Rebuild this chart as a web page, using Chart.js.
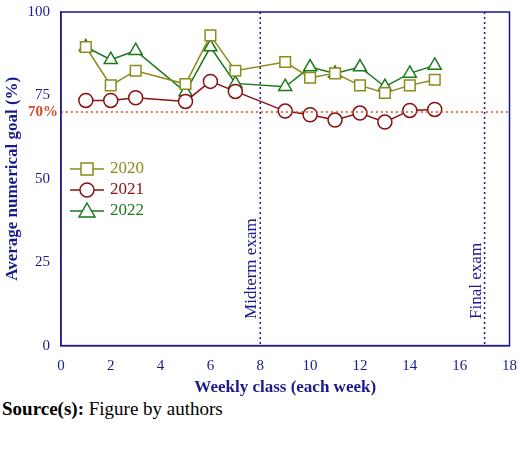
<!DOCTYPE html>
<html><head><meta charset="utf-8">
<script src="https://cdn.jsdelivr.net/npm/chart.js@4/dist/chart.umd.min.js"></script>
<style>
body{margin:0;background:#fff;font-family:"Liberation Serif",serif}
#wrap{width:520px;height:398px;position:relative}
#src{font-size:19px;margin:0 0 0 2px;line-height:22px}
</style></head><body>
<div id="wrap"><canvas id="c"></canvas></div>
<div id="src"><b>Source(s):</b> Figure by authors</div>
<script>
const weeks = [1, 2, 3, 5, 6, 7, 9, 10, 11, 12, 13, 14, 15];
const y2020 = [89.5, 78, 82.4, 78.4, 93, 82.4, 85, 80.3, 81.6, 78, 75.7, 78, 79.7];
const y2021 = [73.5, 73.5, 74.3, 73.2, 79.2, 76.2, 70.3, 69.2, 67.6, 69.7, 67, 70.5, 70.8];
const y2022 = [89.5, 85.7, 88.4, 76, 89.5, 78.6, 77.6, 83.5, 81.6, 83.5, 77.6, 81.6, 84];
const navy = '#1a1a8c';
const serif = '"Liberation Serif", "Times New Roman", serif';
Chart.defaults.font.family = serif;

const series = [
  { label: '2020', data: y2020, color: '#8b8b1a', style: 'rect' },
  { label: '2021', data: y2021, color: '#8b1010', style: 'circle' },
  { label: '2022', data: y2022, color: '#1a7a1a', style: 'triangle' }
];

const extras = {
  id: 'extras',
  afterDraw(chart) {
    const { ctx, chartArea: a, scales: { x, y } } = chart;
    ctx.save();
    ctx.setLineDash([2, 3]);
    ctx.lineWidth = 1.5;
    ctx.strokeStyle = navy;
    [8, 17].forEach(v => {
      ctx.beginPath(); ctx.moveTo(x.getPixelForValue(v), a.top); ctx.lineTo(x.getPixelForValue(v), a.bottom); ctx.stroke();
    });
    ctx.strokeStyle = '#d84a2a';
    ctx.beginPath(); ctx.moveTo(a.left, y.getPixelForValue(70)); ctx.lineTo(a.right, y.getPixelForValue(70)); ctx.stroke();
    ctx.setLineDash([]);
    ctx.fillStyle = '#d84a2a';
    ctx.font = 'bold 15px ' + serif;
    ctx.textAlign = 'right'; ctx.textBaseline = 'middle';
    ctx.fillText('70%', a.left - 3, y.getPixelForValue(70));
    ctx.fillStyle = navy;
    ctx.font = '17px ' + serif;
    [[7.5, 'Midterm exam'], [16.5, 'Final exam']].forEach(([v, t]) => {
      ctx.save();
      ctx.translate(x.getPixelForValue(v) + 4, y.getPixelForValue(8));
      ctx.rotate(-Math.PI / 2);
      ctx.textAlign = 'left';
      ctx.fillText(t, 0, 0);
      ctx.restore();
    });
    // legend
    ctx.font = '17px ' + serif;
    ctx.textAlign = 'left';
    series.forEach((s, i) => {
      const ly = 169 + i * 21, lx = 70;
      ctx.strokeStyle = s.color; ctx.lineWidth = 1.5;
      ctx.beginPath(); ctx.moveTo(lx, ly); ctx.lineTo(lx + 34, ly); ctx.stroke();
      ctx.fillStyle = '#fff';
      ctx.beginPath();
      if (s.style === 'rect') ctx.rect(lx + 11, ly - 6, 12, 12);
      else if (s.style === 'circle') ctx.arc(lx + 17, ly, 7, 0, Math.PI * 2);
      else { ctx.moveTo(lx + 17, ly - 8); ctx.lineTo(lx + 25, ly + 6); ctx.lineTo(lx + 9, ly + 6); ctx.closePath(); }
      ctx.fill(); ctx.stroke();
      ctx.fillStyle = s.color;
      ctx.fillText(s.label, lx + 40, ly);
    });
    ctx.strokeStyle = navy; ctx.lineWidth = 1.5;
    ctx.strokeRect(a.left, a.top, a.right - a.left, a.bottom - a.top);
    ctx.restore();
  }
};

new Chart(document.getElementById('c'), {
  type: 'line',
  data: {
    datasets: series.map(s => ({
      label: s.label,
      data: weeks.map((w, i) => ({ x: w, y: s.data[i] })),
      borderColor: s.color,
      backgroundColor: '#fff',
      borderWidth: 1.5,
      pointStyle: s.style,
      pointRadius: s.style === 'circle' ? 7 : 7.5,
      pointBorderWidth: 1.5,
      tension: 0
    }))
  },
  options: {
    responsive: true, maintainAspectRatio: false, animation: false,
    layout: { padding: { top: 7, right: 8 } },
    plugins: { legend: { display: false }, tooltip: { enabled: false } },
    scales: {
      x: {
        type: 'linear', min: 0, max: 18,
        grid: { display: false },
        border: { color: navy, width: 1.5 },
        ticks: { stepSize: 2, color: navy, font: { size: 15, family: serif } },
        title: { display: true, text: 'Weekly class (each week)', color: navy, font: { size: 17, weight: 'bold', family: serif }, padding: 0 }
      },
      y: {
        min: 0, max: 100,
        grid: { display: false },
        border: { color: navy, width: 1.5 },
        ticks: { stepSize: 25, color: navy, font: { size: 15, family: serif } },
        title: { display: true, text: 'Average numerical goal (%)', color: navy, font: { size: 17, weight: 'bold', family: serif }, padding: 2 }
      }
    }
  },
  plugins: [extras]
});
</script>
</body></html>
